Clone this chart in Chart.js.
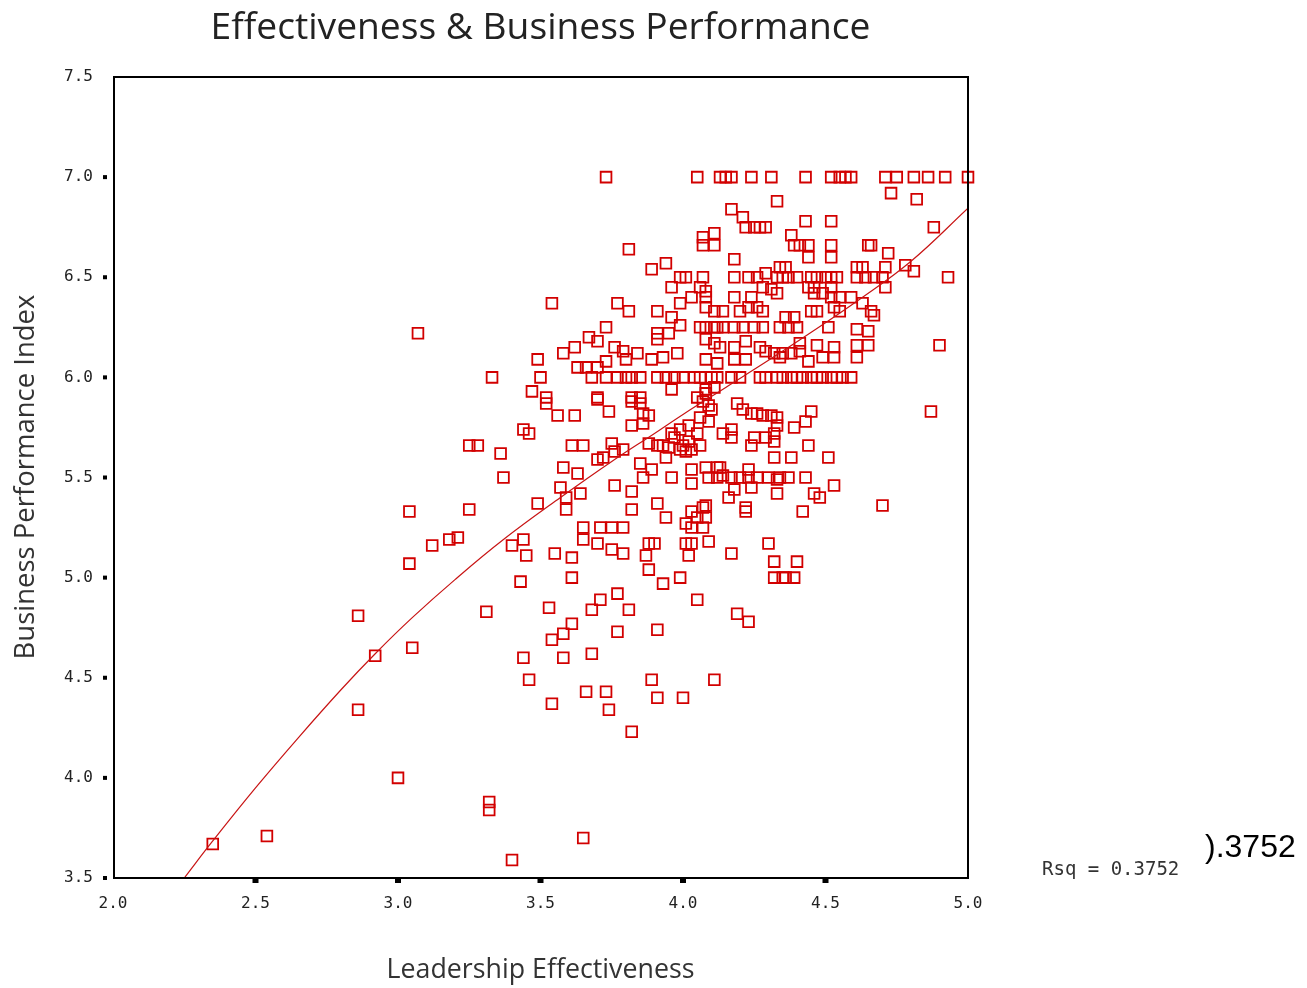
<!DOCTYPE html>
<html><head><meta charset="utf-8">
<script src="https://cdn.jsdelivr.net/npm/chart.js@4/dist/chart.umd.min.js"></script>
<style>html,body{margin:0;padding:0;background:#fff;overflow:hidden}</style>
</head><body>
<canvas id="c" width="1307" height="988"></canvas>
<script>
const titleText = "Effectiveness & Business Performance";
const xAxisTitle = "Leadership Effectiveness";
const yAxisTitle = "Business Performance Index";
const xTickValues = [2.0, 2.5, 3.0, 3.5, 4.0, 4.5, 5.0];
const yTickValues = [3.5, 4.0, 4.5, 5.0, 5.5, 6.0, 6.5, 7.0, 7.5];
const rsqLabel = "Rsq = 0.3752";
const rsqClipped = ").3752";

// [leadership effectiveness, business performance index]
const pointsTop = [[3.73,7.0],[4.05,7.0],[4.13,7.0],[4.15,7.0],[4.17,7.0],[4.24,7.0],[4.31,7.0],[4.43,7.0],[4.52,7.0],[4.55,7.0],[4.57,7.0],[4.59,7.0],[4.71,7.0],[4.75,7.0],[4.81,7.0],[4.86,7.0],[4.92,7.0],[5.0,7.0]];
const pointsUpper = [[4.73,6.92],[4.82,6.89],[4.33,6.88],[4.17,6.84],[4.21,6.80],[4.22,6.75],[4.25,6.75],[4.27,6.75],[4.29,6.75],[4.43,6.78],[4.52,6.78],[4.88,6.75],[4.38,6.71],[4.39,6.66],[4.41,6.66],[4.44,6.66],[4.52,6.66],[4.52,6.60],[4.65,6.66],[4.66,6.66],[4.72,6.62],[4.44,6.60],[4.18,6.59],[4.07,6.70],[4.11,6.72],[4.07,6.66],[4.11,6.66],[3.81,6.64],[3.89,6.54],[3.94,6.57],[3.99,6.50],[4.01,6.50],[4.07,6.50],[3.96,6.45],[4.06,6.45],[3.99,6.37],[4.03,6.40],[4.08,6.40],[4.08,6.35],[3.54,6.37],[3.77,6.37],[3.81,6.33],[3.91,6.33],[3.96,6.30],[3.99,6.26],[3.73,6.25],[3.91,6.22],[3.95,6.22],[4.06,6.25],[4.08,6.25],[4.11,6.25],[3.67,6.20],[3.70,6.18],[3.91,6.19],[3.49,6.09],[3.58,6.12],[3.62,6.15],[3.76,6.15],[3.79,6.13],[3.84,6.12],[3.73,6.08],[3.63,6.05],[3.66,6.05],[3.70,6.05],[3.68,6.0],[3.73,6.0],[3.77,6.0],[3.80,6.0],[3.82,6.0],[3.85,6.0],[3.91,6.0],[3.89,6.09],[3.93,6.10],[3.98,6.12],[3.33,6.0],[3.50,6.0],[3.47,5.93],[3.52,5.90],[3.96,5.94],[4.08,5.94],[3.80,6.09],[3.07,6.22]];
const pointsRightUpper = [[4.18,6.50],[4.23,6.50],[4.26,6.50],[4.29,6.52],[4.34,6.55],[4.36,6.55],[4.33,6.50],[4.35,6.50],[4.37,6.50],[4.40,6.50],[4.45,6.50],[4.47,6.50],[4.50,6.50],[4.52,6.50],[4.54,6.50],[4.61,6.55],[4.63,6.55],[4.61,6.50],[4.64,6.50],[4.67,6.50],[4.70,6.50],[4.71,6.55],[4.71,6.45],[4.78,6.56],[4.81,6.53],[4.93,6.50],[4.08,6.43],[4.18,6.40],[4.24,6.40],[4.28,6.45],[4.31,6.44],[4.33,6.42],[4.44,6.45],[4.46,6.45],[4.46,6.42],[4.49,6.42],[4.52,6.45],[4.52,6.40],[4.55,6.40],[4.59,6.40],[4.63,6.37],[4.66,6.33],[4.67,6.31],[4.11,6.33],[4.14,6.33],[4.20,6.33],[4.23,6.35],[4.26,6.35],[4.28,6.33],[4.36,6.30],[4.39,6.30],[4.45,6.33],[4.47,6.33],[4.53,6.35],[4.55,6.33],[4.12,6.25],[4.14,6.25],[4.18,6.25],[4.21,6.25],[4.25,6.25],[4.28,6.25],[4.34,6.25],[4.37,6.25],[4.40,6.25],[4.51,6.25],[4.61,6.24],[4.65,6.23]];
const pointsRightMid = [[4.08,6.19],[4.11,6.17],[4.13,6.15],[4.18,6.15],[4.22,6.18],[4.27,6.15],[4.29,6.13],[4.32,6.12],[4.35,6.12],[4.38,6.12],[4.41,6.13],[4.41,6.17],[4.47,6.16],[4.53,6.15],[4.53,6.10],[4.49,6.10],[4.61,6.16],[4.65,6.16],[4.61,6.10],[4.08,6.09],[4.12,6.07],[4.18,6.09],[4.22,6.09],[4.34,6.10],[4.44,6.08],[4.90,6.16],[4.06,6.0],[4.10,6.0],[4.12,6.0],[4.17,6.0],[4.20,6.0],[4.27,6.0],[4.29,6.0],[4.33,6.0],[4.35,6.0],[4.38,6.0],[4.40,6.0],[4.42,6.0],[4.45,6.0],[4.47,6.0],[4.49,6.0],[4.52,6.0],[4.54,6.0],[4.56,6.0],[4.59,6.0],[4.11,5.95],[4.08,5.92],[4.04,6.0],[4.0,6.0],[3.97,6.0],[3.94,6.0],[4.05,5.9],[4.07,5.88],[4.09,5.86],[4.10,5.84],[4.06,5.80],[4.09,5.78],[4.02,5.76],[4.05,5.72],[3.97,5.70],[4.0,5.66],[4.06,5.66],[4.02,5.68]];
const pointsCentre = [[3.52,5.87],[3.56,5.81],[3.62,5.81],[3.44,5.74],[3.46,5.72],[3.25,5.66],[3.28,5.66],[3.36,5.62],[3.37,5.50],[3.61,5.66],[3.65,5.66],[3.70,5.89],[3.74,5.83],[3.82,5.88],[3.85,5.87],[3.86,5.82],[3.88,5.81],[3.86,5.77],[3.82,5.76],[3.75,5.67],[3.70,5.59],[3.72,5.60],[3.76,5.63],[3.79,5.64],[3.58,5.55],[3.63,5.52],[3.57,5.45],[3.64,5.42],[3.59,5.40],[3.59,5.34],[3.49,5.37],[3.25,5.34],[3.18,5.19],[3.21,5.20],[3.40,5.16],[3.44,5.19],[3.45,5.11],[3.55,5.12],[3.61,5.10],[3.43,4.98],[3.61,5.0],[3.31,4.83],[3.53,4.85],[3.65,5.25],[3.65,5.19],[3.70,5.17],[3.71,5.25],[3.75,5.25],[3.79,5.25],[3.75,5.14],[3.79,5.12],[3.76,5.46],[3.82,5.43],[3.82,5.34],[3.91,5.37],[3.94,5.30],[3.88,5.17],[3.90,5.17],[3.87,5.11],[3.88,5.04],[3.93,4.97],[3.99,5.00],[4.03,5.33],[4.07,5.35],[4.05,5.30],[4.08,5.30],[4.01,5.27],[4.03,5.25],[4.07,5.25],[4.01,5.17],[4.03,5.17],[4.09,5.18],[4.02,5.11],[4.05,4.89],[3.68,4.84],[3.71,4.89],[3.77,4.92],[3.81,4.84],[3.85,5.57],[3.89,5.54],[3.86,5.50],[3.96,5.50],[4.03,5.54],[4.03,5.47],[4.08,5.55],[4.12,5.55],[3.94,5.60],[3.96,5.72],[3.99,5.74],[4.01,5.63],[4.03,5.64],[3.88,5.67],[3.91,5.66],[3.93,5.66],[3.95,5.65],[3.99,5.64],[3.70,5.90],[3.82,5.90],[3.85,5.90]];
const pointsRightLower = [[4.45,5.83],[4.43,5.78],[4.39,5.75],[4.87,5.83],[4.19,5.87],[4.21,5.84],[4.24,5.82],[4.26,5.82],[4.28,5.81],[4.31,5.81],[4.33,5.80],[4.33,5.76],[4.32,5.72],[4.32,5.68],[4.14,5.72],[4.17,5.74],[4.17,5.70],[4.24,5.66],[4.25,5.70],[4.29,5.70],[4.32,5.60],[4.38,5.60],[4.51,5.60],[4.44,5.66],[4.13,5.55],[4.14,5.51],[4.09,5.50],[4.12,5.50],[4.17,5.50],[4.20,5.50],[4.23,5.54],[4.23,5.50],[4.26,5.50],[4.30,5.50],[4.34,5.50],[4.37,5.50],[4.43,5.50],[4.33,5.49],[4.18,5.44],[4.24,5.45],[4.33,5.42],[4.16,5.40],[4.46,5.42],[4.48,5.40],[4.53,5.46],[4.42,5.33],[4.70,5.36],[4.22,5.35],[4.22,5.33],[4.08,5.36],[4.17,5.12],[4.30,5.17],[4.32,5.08],[4.40,5.08],[4.32,5.0],[4.35,5.0],[4.36,5.0],[4.39,5.0],[4.19,4.82],[4.23,4.78]];
const pointsLower = [[3.61,4.77],[3.58,4.72],[3.54,4.69],[3.77,4.73],[3.91,4.74],[3.44,4.60],[3.58,4.60],[3.68,4.62],[3.46,4.49],[3.54,4.37],[3.66,4.43],[3.73,4.43],[3.74,4.34],[3.89,4.49],[3.91,4.40],[4.00,4.40],[4.11,4.49],[3.82,4.23],[3.32,3.88],[3.32,3.84],[3.65,3.70],[3.40,3.59]];
const pointsLeft = [[3.04,5.33],[3.12,5.16],[3.04,5.07],[2.86,4.81],[2.92,4.61],[3.05,4.65],[2.86,4.34],[3.00,4.0],[2.35,3.67],[2.54,3.71]];

// fitted curve
const fitX = [2.25, 2.35, 2.5, 2.65, 2.8, 2.92, 3.05, 3.2, 3.37, 3.57, 3.75, 3.9, 4.0, 4.15, 4.3, 4.45, 4.62, 4.8, 5.0];
const fitY = [3.50, 3.685, 3.95, 4.20, 4.44, 4.62, 4.80, 4.99, 5.19, 5.40, 5.58, 5.72, 5.815, 5.95, 6.085, 6.225, 6.39, 6.58, 6.845];

const allPoints = [].concat(pointsTop, pointsUpper, pointsRightUpper, pointsRightMid, pointsCentre, pointsRightLower, pointsLower, pointsLeft)
  .map(p => ({x: p[0], y: p[1]}));
const fitPoints = fitX.map((x, i) => ({x: x, y: fitY[i]}));

const decor = {
  id: 'decor',
  afterDraw(chart) {
    const ctx = chart.ctx, a = chart.chartArea;
    const xs = chart.scales.x, ys = chart.scales.y;
    ctx.save();
    // frame
    ctx.strokeStyle = '#000'; ctx.lineWidth = 2;
    ctx.strokeRect(a.left + 1, a.top, a.right - a.left - 1, a.bottom - a.top);
    // tick marks
    ctx.fillStyle = '#000';
    yTickValues.forEach(v => { if (v < 7.5) { const py = ys.getPixelForValue(v); ctx.fillRect(a.left - 10, py - 2, 4, 4); } });
    xTickValues.forEach(v => { if (v > 2 && v < 5) { const px = xs.getPixelForValue(v); ctx.fillRect(px - 3, a.bottom + 1, 6, 4); } });
    // title
    ctx.fillStyle = '#222'; ctx.textAlign = 'center'; ctx.textBaseline = 'middle';
    let fs = 34; ctx.font = '500 ' + fs + 'px "Open Sans"';
    const w = ctx.measureText(titleText).width; fs = fs * 660 / w; ctx.font = '500 ' + fs + 'px "Open Sans"';
    ctx.fillText(titleText, (a.left + a.right) / 2, 28);
    // x axis title
    ctx.fillStyle = '#333';
    let fx = 24; ctx.font = fx + 'px "Open Sans"';
    fx = fx * 308 / ctx.measureText(xAxisTitle).width; ctx.font = fx + 'px "Open Sans"';
    ctx.fillText(xAxisTitle, (a.left + a.right) / 2, 970);
    // y axis title
    ctx.save(); ctx.translate(26, 477); ctx.rotate(-Math.PI / 2);
    let fy = 24; ctx.font = fy + 'px "Open Sans"';
    fy = fy * 365 / ctx.measureText(yAxisTitle).width; ctx.font = fy + 'px "Open Sans"';
    ctx.fillText(yAxisTitle, 0, 0);
    ctx.restore();
    // Rsq
    ctx.fillStyle = '#333'; ctx.textAlign = 'left';
    ctx.font = '19px "DejaVu Sans Mono"';
    ctx.fillText(rsqLabel, 1042, 870);
    ctx.fillStyle = '#000';
    ctx.font = '32px "Liberation Sans"';
    ctx.fillText(rsqClipped, 1205, 848);
    ctx.restore();
  }
};

new Chart(document.getElementById('c'), {
  type: 'scatter',
  data: {
    datasets: [
      {
        label: 'Observed',
        data: allPoints,
        pointStyle: 'rect',
        pointRadius: 7.6,
        pointHoverRadius: 7.6,
        pointBorderWidth: 1.8,
        pointBorderColor: 'rgb(210,0,0)',
        pointBackgroundColor: 'rgba(0,0,0,0)',
        showLine: false,
        clip: false,
        order: 2
      },
      {
        label: 'Fit',
        data: fitPoints,
        showLine: true,
        pointRadius: 0,
        borderColor: 'rgb(200,20,20)',
        borderWidth: 1.2,
        tension: 0.4,
        fill: false,
        order: 1
      }
    ]
  },
  options: {
    responsive: false,
    animation: false,
    events: [],
    layout: { padding: { top: 77, right: 339, bottom: 0, left: 0 } },
    plugins: { legend: { display: false }, tooltip: { enabled: false }, title: { display: false } },
    scales: {
      x: {
        type: 'linear', min: 2, max: 5,
        afterBuildTicks: s => { s.ticks = xTickValues.map(v => ({value: v})); },
        afterFit: s => { s.height = 110; },
        grid: { display: false, drawTicks: false },
        border: { display: false },
        ticks: { padding: 16, color: '#222', font: { family: 'DejaVu Sans Mono', size: 16 }, callback: v => Number(v).toFixed(1), maxRotation: 0 }
      },
      y: {
        type: 'linear', min: 3.5, max: 7.5,
        afterBuildTicks: s => { s.ticks = yTickValues.map(v => ({value: v})); },
        afterFit: s => { s.width = 113; },
        grid: { display: false, drawTicks: false },
        border: { display: false },
        ticks: { padding: 20, color: '#222', font: { family: 'DejaVu Sans Mono', size: 16 }, callback: v => Number(v).toFixed(1) }
      }
    }
  },
  plugins: [decor]
});
</script>
</body></html>
